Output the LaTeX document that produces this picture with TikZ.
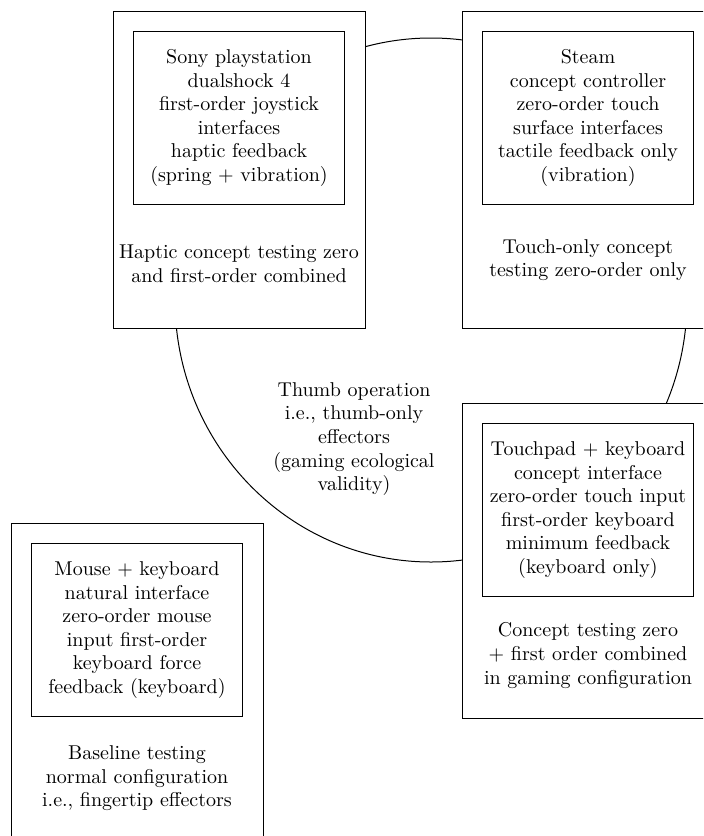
\documentclass[tikz,border=0pt]{standalone}
\usepackage{tikz}
\usetikzlibrary{shapes.geometric}
\usetikzlibrary{calc}
\tikzset{
    boxnode/.style={draw, line width=0.5pt, inner sep=0pt, align=center, text centered},
    outerbox/.style={boxnode, fill=white, minimum width=126pt, minimum height=158.5pt},
    innerbox/.style={boxnode, minimum width=105.5pt, minimum height=86.5pt},
    caption/.style={align=center, inner sep=0pt, text centered},
    ring/.style={ellipse, draw, line width=0.5pt, inner sep=0pt, minimum width=512pt, minimum height=524pt}
}

\begin{document}
\begin{tikzpicture}[
  x=0.5pt, y=-0.5pt,
  every node/.style={font=\fontsize{10}{11.8}\selectfont}]

\useasboundingbox (0,0) rectangle (703,836);
\clip (0,0) rectangle (703,836);

% thumb circle behind the boxes
\node[ring, minimum width=256pt, minimum height=262pt] (thumb) at (431,300) {};
\node[caption] (thumbtext) at (354,439) {Thumb operation\\i.e., thumb-only\\effectors\\(gaming ecological\\validity)};

% outer boxes
\node[outerbox] (haptic) at (239,169.5) {};
\node[outerbox] (touch) at (588,169.5) {};
\node[outerbox, minimum height=157.5pt] (touchpad) at (588,560.5) {};
\node[outerbox] (baseline) at (137,681.5) {};

% inner boxes
\node[innerbox] (hapticin) at ($(haptic.north)+(0,107.5)$) {Sony playstation\\dualshock 4\\first-order joystick\\interfaces\\haptic feedback\\(spring + vibration)};
\node[innerbox] (touchin) at ($(touch.north)+(0,107.5)$) {Steam\\concept controller\\zero-order touch\\surface interfaces\\tactile feedback only\\(vibration)};
\node[innerbox] (touchpadin) at ($(touchpad.north)+(0,107.5)$) {Touchpad + keyboard\\concept interface\\zero-order touch input\\first-order keyboard\\minimum feedback\\(keyboard only)};
\node[innerbox] (baselinein) at ($(baseline.north)+(0,107.5)$) {Mouse + keyboard\\natural interface\\zero-order mouse\\input first-order\\keyboard force\\feedback (keyboard)};

% captions
\node[caption] (hapticcap) at (239,264) {Haptic concept testing zero\\and first-order combined};
\node[caption] (touchcap) at (588,260) {Touch-only concept\\testing zero-order only};
\node[caption] (touchpadcap) at (588,655.5) {Concept testing zero\\+ first order combined\\in gaming configuration};
\node[caption] (baselinecap) at (137,778.5) {Baseline testing\\normal configuration\\i.e., fingertip effectors};

\end{tikzpicture}
\end{document}
